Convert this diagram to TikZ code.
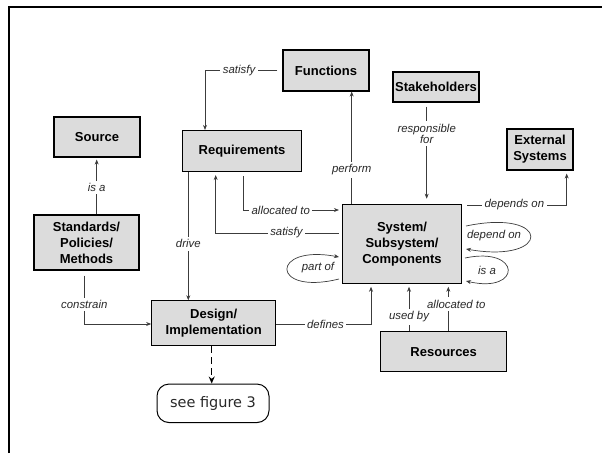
\documentclass[tikz,border=0pt]{standalone}
\usepackage{fontspec}
\setmainfont{Liberation Sans}
\newfontfamily\seefont{DejaVu Sans}
\usetikzlibrary{arrows.meta,calc}
\definecolor{boxgray}{RGB}{220,220,220}
\definecolor{linegray}{RGB}{60,60,60}
\definecolor{labgray}{RGB}{40,40,40}
\begin{document}
\begin{tikzpicture}[x=1pt,y=-1pt,
 box/.style={draw=black,line width=1.1pt,fill=boxgray,inner sep=0pt,align=center,font=\fontsize{13}{16}\selectfont\bfseries},
 lbl/.style={fill=white,inner sep=2.5pt,font=\fontsize{11.4}{11.5}\selectfont\itshape,text=labgray,align=center},
 lblnf/.style={inner sep=0pt,font=\fontsize{11.4}{11.5}\selectfont\itshape,text=labgray,align=center},
 arr/.style={draw=linegray,line width=0.7pt,-{Stealth[length=5pt,width=4pt]}}]
\useasboundingbox (0,0) rectangle (602,453);
% frame
\draw[line width=2pt] (8.5,453) -- (8.5,7) -- (602,7);
% boxes
\node[box,minimum width=86pt,minimum height=41pt] (fun) at (326,70.5) {Functions};
\node[box,minimum width=86pt,minimum height=30pt] (stk) at (436,87) {Stakeholders};
\node[box,minimum width=86pt,minimum height=40pt] (src) at (97,137) {Source};
\node[box,minimum width=119pt,minimum height=41pt] (req) at (242,151) {Requirements};
\node[box,minimum width=66pt,minimum height=41pt] (ext) at (540,149.5) {External\\Systems};
\node[box,minimum width=105pt,minimum height=55pt] (std) at (86.5,242.5) {Standards/\\Policies/\\Methods};
\node[box,minimum width=119pt,minimum height=79pt] (sys) at (402,243.7) {System/\\Subsystem/\\Components};
\node[box,minimum width=124pt,minimum height=45pt] (des) at (213.7,323.3) {Design/\\Implementation};
\node[box,minimum width=126pt,minimum height=40pt] (res) at (443.7,351.7) {Resources};
\node[draw=black,line width=1pt,rounded corners=12pt,minimum width=112pt,minimum height=38.5pt,inner sep=0pt,font=\seefont\fontsize{14.5}{16}\selectfont,text=labgray] (see) at (213,403.3) {see figure 3};
% coordinates
\coordinate (c1) at (205,70.5);
\coordinate (pf) at (351.7,0);
\coordinate (rf) at (426.7,0);
\coordinate (ia) at (96.7,0);
\coordinate (dr) at (188.3,0);
\coordinate (s2) at (215.7,233);
\coordinate (a1) at (243.3,210);
\coordinate (cs) at (84.3,324);
\coordinate (df) at (371,324);
\coordinate (dp) at (566.7,205);
\coordinate (ub) at (409,0);
\coordinate (a2) at (448.3,0);
\coordinate (dd) at (211.7,0);
% connectors
\draw[arr,shorten <=5pt] (fun.west) -- node[lbl,pos=0.56]{satisfy} (c1) -- (c1 |- req.north);
\draw[arr] (sys.north -| pf) -- node[lbl,pos=0.3]{perform} (fun.south -| pf);
\draw[arr,shorten <=4pt,shorten >=5pt] (stk.south -| rf) -- node[lbl,pos=0.31]{responsible\\for} (sys.north -| rf);
\draw[arr,shorten >=2pt] (std.north -| ia) -- node[lbl,pos=0.47]{is a} (src.south -| ia);
\draw[arr] (req.south -| dr) -- node[lbl,pos=0.56]{drive} (des.north -| dr);
\draw[arr,shorten <=3pt,shorten >=3pt] (sys.west |- s2) -- node[lbl,pos=0.44]{satisfy} (s2) -- (s2 |- req.south);
\draw[arr,shorten <=4pt,shorten >=3pt] (req.south -| a1) -- (a1) -- node[lbl,pos=0.38]{allocated to} (sys.west |- a1);
\draw[arr,shorten <=5pt] (std.south -| cs) -- node[lbl,pos=0.63]{constrain} (cs) -- (des.west |- cs);
\draw[arr,shorten >=3pt] (des.east |- df) -- node[lbl,pos=0.52]{defines} (df) -- (df |- sys.south);
\draw[arr,shorten <=5pt,shorten >=3pt] (sys.east |- dp) -- node[lbl,pos=0.5]{depends on} (dp) -- (dp |- ext.south);
\draw[arr,shorten >=3pt] (res.north -| ub) -- node[lbl,pos=0.3]{used by} (sys.south -| ub);
\draw[arr,shorten >=3pt] (res.north -| a2) -- node[lbl,pos=0.57,xshift=8pt]{allocated to} (sys.south -| a2);
% self loops
\draw[arr] (466,226) .. controls (552,208) and (552,264) .. (466,249);
\node[lblnf] (dpo) at (494,236) {depend on};
\draw[arr] (465,258) .. controls (522,246) and (522,294) .. (466,281);
\node[lblnf] (isa) at (487,270) {is a};
\draw[arr] (339,279) .. controls (270,296) and (270,244) .. (339,257);
\node[lblnf] (pto) at (318,268) {part of};
% dashed arrow
\draw[line width=1.5pt,dash pattern=on 7pt off 4pt,-{Stealth[length=7pt,width=6pt]}] (des.south -| dd) -- (see.north -| dd);
\end{tikzpicture}
\end{document}
